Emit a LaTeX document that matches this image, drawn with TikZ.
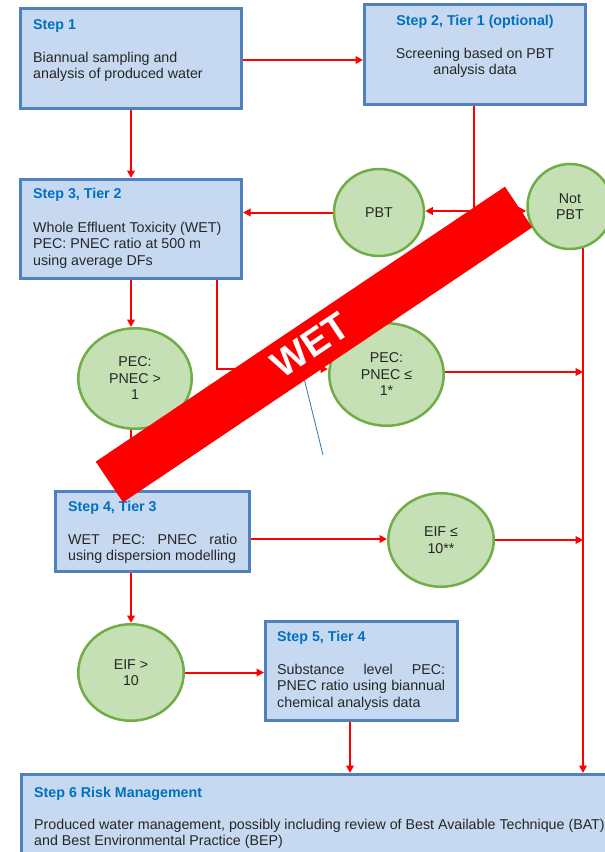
\documentclass[tikz,border=0pt]{standalone}
\usepackage{fontspec}
\setmainfont{Liberation Sans}
\usetikzlibrary{arrows.meta,shapes.geometric,calc}
\pgfdeclarelayer{bg}
\pgfsetlayers{bg,main}
\definecolor{boxfill}{HTML}{C6D9F1}
\definecolor{boxborder}{HTML}{4F81BD}
\definecolor{titleblue}{HTML}{0070C0}
\definecolor{textgray}{HTML}{262626}
\definecolor{bubfill}{HTML}{C5E0B4}
\definecolor{bubborder}{HTML}{70AD47}
\definecolor{thinblue}{HTML}{2E75B6}
\begin{document}
\begin{tikzpicture}[x=1pt,y=-1pt,
  font=\fontsize{14.25}{16.5}\selectfont,
  stepbox/.style={draw=boxborder, fill=boxfill, line width=3pt, inner sep=0},
  bubble/.style={ellipse, draw=bubborder, fill=bubfill, line width=2.5pt, inner sep=0, align=center, text=textgray, font=\fontsize{14.25}{16.5}\selectfont},
  ttl/.style={font=\fontsize{14.25}{16.5}\selectfont\bfseries, text=titleblue, inner sep=0, anchor=base west},
  body/.style={inner sep=0, anchor=base west, text=textgray},
  conn/.style={draw=red, line width=2pt, -{Triangle[length=7.5pt,width=7.5pt]}},
  plain/.style={draw=red, line width=2pt}]
\useasboundingbox (0,0) rectangle (605,852);

% boxes
\node[stepbox, minimum width=221pt, minimum height=100pt] (s1) at (131,58.5) {};
\node[stepbox, minimum width=221pt, minimum height=100pt] (s2) at (475,54.5) {};
\node[stepbox, minimum width=221pt, minimum height=99pt] (s3) at (131,229) {};
\node[stepbox, minimum width=194pt, minimum height=80pt] (s4) at (152.5,531.5) {};
\node[stepbox, minimum width=192pt, minimum height=99pt] (s5) at (361.5,671) {};
\node[stepbox, minimum width=618.5pt, minimum height=105.5pt] (s6) at (330.75,827.25) {};

% box texts
\node[ttl] (t1) at (33,29) {Step 1};
\node[body] (b1) at (33,62) {\parbox[t]{205pt}{Biannual sampling and\\analysis of produced water}};
\node[ttl, anchor=base] (t2) at (475,25) {Step 2, Tier 1 (optional)};
\node[body, anchor=base] (b2) at (475,58) {\parbox[t]{205pt}{\centering Screening based on PBT\\analysis data}};
\node[ttl] (t3) at (33,198) {Step 3, Tier 2};
\node[body] (b3) at (33,232) {\parbox[t]{205pt}{Whole Effluent Toxicity (WET)\\PEC: PNEC ratio at 500 m\\using average DFs}};
\node[ttl] (t4) at (68,511) {Step 4, Tier 3};
\node[body] (b4) at (68,544) {\parbox[t]{169pt}{WET\hfill PEC:\hfill PNEC\hfill ratio\\using dispersion modelling}};
\node[ttl] (t5) at (277,641) {Step 5, Tier 4};
\node[body] (b5) at (277,674) {\parbox[t]{168pt}{Substance\hfill level\hfill PEC:\\PNEC\hfill ratio\hfill using\hfill biannual\\chemical analysis data}};
\node[ttl] (t6) at (34,797) {Step 6 Risk Management};
\node[body] (b6) at (34,829) {\parbox[t]{700pt}{Produced water management, possibly including review of Best Available Technique (BAT)\\and Best Environmental Practice (BEP)}};

% bubbles
\node[bubble, minimum width=90pt, minimum height=87pt] (pbt) at (379,212.5) {PBT};
\node[bubble, minimum width=85pt, minimum height=85pt] (notpbt) at (570,206.5) {Not\\PBT};
\node[bubble, minimum width=113.5pt, minimum height=100.5pt] (pecgt) at (135,378.5) {PEC:\\PNEC >\\1};
\node[bubble, minimum width=114.5pt, minimum height=102.5pt] (pecle) at (386.5,374.5) {PEC:\\PNEC ≤\\1*};
\node[bubble, minimum width=105.5pt, minimum height=93.5pt] (eifle) at (441,540) {EIF ≤\\10**};
\node[bubble, minimum width=105.5pt, minimum height=96.5pt] (eifgt) at (131,672.5) {EIF >\\10};

% helper coordinates
\coordinate (j2) at (474,211);
\coordinate (rv) at (583,0);
\coordinate (k) at (217,369);
\coordinate (m) at (0,539);
\coordinate (n) at (350,0);
\coordinate (vl) at (131,0);

% connectors
\begin{pgfonlayer}{bg}
\draw[conn] (s1.south) -- (s1.south |- s3.north);
\draw[conn] (s1.east |- 0,60) -- (s2.west |- 0,60);
\draw[plain] (s2.south -| j2) -- (j2);
\draw[conn] (j2) -- (j2 -| pbt.east);
\draw[conn] (j2) -- (j2 -| notpbt.west);
\draw[conn] (pbt.west) -- (pbt.west -| s3.east);
\draw[conn] (notpbt.center -| rv) -- (s6.north -| rv);
\draw[conn] (s3.south -| vl) -- (pecgt.north -| vl);
\draw[conn] (s3.south -| k) -- (k) -- (k -| pecle.west);
\draw[conn] (pecle.center |- 0,372) -- (rv |- 0,372);
\draw[conn] (pecgt.center -| vl) -- (s4.north -| vl);
\draw[conn] (s4.east |- m) -- (eifle.west |- m);
\draw[conn] (eifle.center) -- (eifle.center -| rv);
\draw[conn] (s4.south -| eifgt.north) -- (eifgt.north);
\draw[conn] (eifgt.east) -- (eifgt.east -| s5.west);
\draw[conn] (s5.south -| n) -- (s6.north -| n);
\end{pgfonlayer}

% thin blue stray line
\coordinate (bl1) at (302,370);
\coordinate (bl2) at (323,455);
\draw[thinblue, line width=0.8pt] (bl1) -- (bl2);

% WET banner
\node[fill=red, minimum width=493pt, minimum height=49pt, inner sep=0, rotate=33.9] (banner) at (314,344.5) {};
\node[text=white, font=\fontsize{38}{38}\selectfont\bfseries, inner sep=0, rotate=33.9] (wet) at (310,345) {WET};
\end{tikzpicture}
\end{document}
